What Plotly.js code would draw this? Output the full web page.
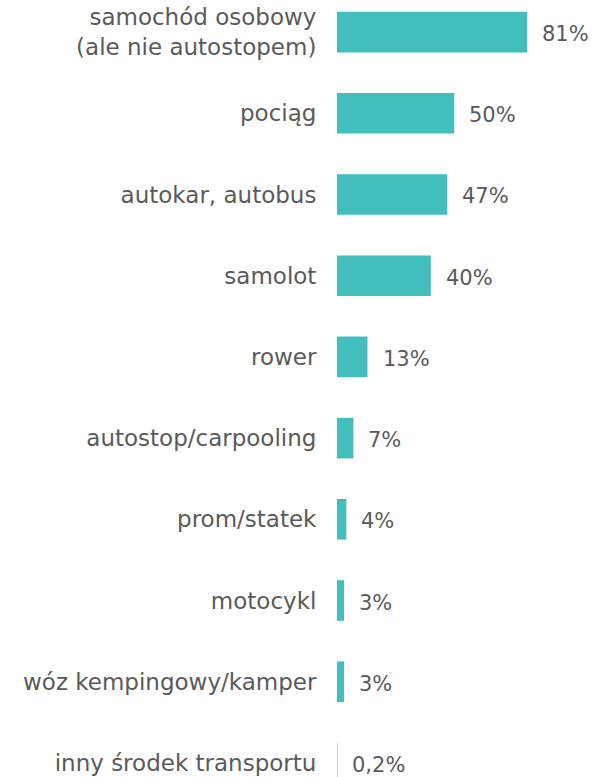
<!DOCTYPE html>
<html>
<head>
<meta charset="utf-8">
<script src="https://cdn.plot.ly/plotly-3.0.1.min.js"></script>
<style>
html,body{margin:0;padding:0;background:#fff;overflow:hidden;}
#chart{width:598px;height:777px;}
</style>
</head>
<body>
<div id="chart"></div>
<script>
const categories = [
  "samochód osobowy<br>(ale nie autostopem)",
  "pociąg",
  "autokar, autobus",
  "samolot",
  "rower",
  "autostop/carpooling",
  "prom/statek",
  "motocykl",
  "wóz kempingowy/kamper",
  "inny środek transportu"
];
const values = [81, 50, 47, 40, 13, 7, 4, 3, 3, 0.2];
const valueLabels = ["81%", "50%", "47%", "40%", "13%", "7%", "4%", "3%", "3%", "0,2%"];

const FONT = "DejaVu Sans, sans-serif";
const TEXT_COLOR = "#5a5a5a";

const trace = {
  type: "bar",
  orientation: "h",
  x: values,
  y: categories,
  width: 0.5,
  marker: {color: "#42bfbc", line: {width: 0}},
  hoverinfo: "skip"
};

const annotations = values.map((v, i) => ({
  x: v,
  y: categories[i],
  xref: "x",
  yref: "y",
  text: valueLabels[i],
  showarrow: false,
  xanchor: "left",
  yanchor: "middle",
  xshift: 13,
  yshift: -2,
  font: {family: FONT, size: 21, color: TEXT_COLOR}
}));

const layout = {
  width: 598,
  height: 777,
  margin: {l: 337, r: 0, t: 0, b: 0, pad: 0},
  paper_bgcolor: "#ffffff",
  plot_bgcolor: "#ffffff",
  showlegend: false,
  xaxis: {
    range: [0, 111.25],
    visible: false,
    fixedrange: true
  },
  yaxis: {
    type: "category",
    categoryorder: "array",
    categoryarray: categories,
    range: [9.173, -0.395],
    showgrid: false,
    zeroline: false,
    showline: false,
    ticks: "outside",
    ticklen: 15,
    tickcolor: "rgba(0,0,0,0)",
    tickfont: {family: FONT, size: 23, color: TEXT_COLOR},
    fixedrange: true
  },
  annotations: annotations
};

Plotly.newPlot("chart", [trace], layout, {displayModeBar: false, staticPlot: true});
</script>
</body>
</html>
